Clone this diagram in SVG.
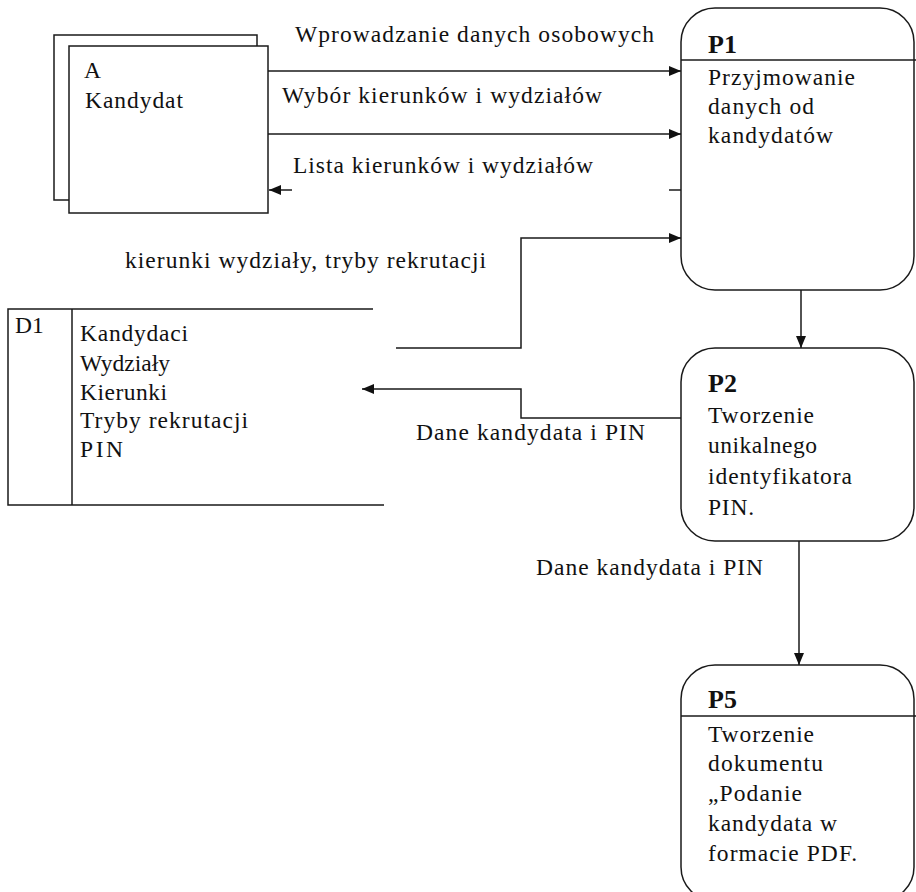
<svg xmlns="http://www.w3.org/2000/svg" width="916" height="892" viewBox="0 0 916 892">
  <style>
    .bg { fill: #ffffff; }
    .box { fill: #ffffff; stroke: #1a1a1a; stroke-width: 1.5; }
    .line { fill: none; stroke: #1a1a1a; stroke-width: 1.5; }
    .txt { font-family: "Liberation Serif", "Times New Roman", serif; font-size: 23.5px; fill: #111111; }
    .head { font-family: "Liberation Serif", "Times New Roman", serif; font-size: 26px; font-weight: bold; fill: #111111; }
  </style>
  <defs>
    <marker id="arrow" viewBox="0 0 12 10" refX="12" refY="5" markerWidth="12" markerHeight="10" markerUnits="userSpaceOnUse" orient="auto">
      <path d="M0,0 L12,5 L0,10 z" fill="#111111"/>
    </marker>
  </defs>
  <rect class="bg" x="0" y="0" width="916" height="892"/>

  <!-- External entity: Kandydat -->
  <g id="entity-A">
    <rect class="box" x="54" y="35" width="203" height="165"/>
    <rect class="box" x="69" y="46" width="199" height="167"/>
    <text class="txt" x="84" y="78">A</text>
    <text class="txt" x="85" y="108" textLength="98">Kandydat</text>
  </g>

  <!-- Data store D1 -->
  <g id="store-D1">
    <path class="line" d="M373,309 H8 V505 H384"/>
    <line class="line" x1="72" y1="309" x2="72" y2="505"/>
    <text class="txt" x="15" y="333">D1</text>
    <text class="txt" x="80" y="341" textLength="108">Kandydaci</text>
    <text class="txt" x="80" y="371" textLength="90">Wydziały</text>
    <text class="txt" x="80" y="400" textLength="87">Kierunki</text>
    <text class="txt" x="80" y="428" textLength="168">Tryby rekrutacji</text>
    <text class="txt" x="80" y="457" textLength="43">PIN</text>
  </g>

  <!-- Process P1 -->
  <g id="process-P1">
    <rect class="box" x="681" y="8" width="233" height="282" rx="34" ry="34"/>
    <line class="line" x1="681" y1="60" x2="916" y2="60"/>
    <text class="head" x="708" y="53">P1</text>
    <text class="txt" x="708" y="85" textLength="147">Przyjmowanie</text>
    <text class="txt" x="708" y="114" textLength="106">danych od</text>
    <text class="txt" x="708" y="143" textLength="125">kandydatów</text>
  </g>

  <!-- Process P2 -->
  <g id="process-P2">
    <rect class="box" x="681" y="348" width="233" height="193" rx="34" ry="34"/>
    <text class="head" x="708" y="392">P2</text>
    <text class="txt" x="708" y="423" textLength="106">Tworzenie</text>
    <text class="txt" x="708" y="453" textLength="109">unikalnego</text>
    <text class="txt" x="708" y="484" textLength="144">identyfikatora</text>
    <text class="txt" x="708" y="515" textLength="46">PIN.</text>
  </g>

  <!-- Process P5 -->
  <g id="process-P5">
    <rect class="box" x="681" y="665" width="233" height="236" rx="34" ry="34"/>
    <line class="line" x1="681" y1="716" x2="916" y2="716"/>
    <text class="head" x="708" y="708">P5</text>
    <text class="txt" x="708" y="742" textLength="106">Tworzenie</text>
    <text class="txt" x="708" y="771" textLength="115">dokumentu</text>
    <text class="txt" x="708" y="801" textLength="94">„Podanie</text>
    <text class="txt" x="708" y="831" textLength="129">kandydata w</text>
    <text class="txt" x="708" y="861" textLength="149">formacie PDF.</text>
  </g>

  <!-- Data flows -->
  <g id="connectors">
    <line class="line" x1="268" y1="71" x2="681" y2="71" marker-end="url(#arrow)"/>
    <line class="line" x1="268" y1="134" x2="681" y2="134" marker-end="url(#arrow)"/>
    <line class="line" x1="292" y1="190" x2="269" y2="190" marker-end="url(#arrow)"/>
    <line class="line" x1="669" y1="190" x2="681" y2="190"/>
    <polyline class="line" points="396,348 521,348 521,238 681,238" marker-end="url(#arrow)"/>
    <polyline class="line" points="681,418 521,418 521,389 362,389" marker-end="url(#arrow)"/>
    <line class="line" x1="801" y1="290" x2="801" y2="348" marker-end="url(#arrow)"/>
    <line class="line" x1="799" y1="541" x2="799" y2="665" marker-end="url(#arrow)"/>

    <text class="txt" x="295" y="42" textLength="359">Wprowadzanie danych osobowych</text>
    <text class="txt" x="282" y="103" textLength="320">Wybór kierunków i wydziałów</text>
    <text class="txt" x="293" y="173" textLength="300">Lista kierunków i wydziałów</text>
    <text class="txt" x="125" y="268" textLength="361">kierunki wydziały, tryby rekrutacji</text>
    <text class="txt" x="416" y="440" textLength="229">Dane kandydata i PIN</text>
    <text class="txt" x="536" y="575" textLength="227">Dane kandydata i PIN</text>
  </g>
</svg>
